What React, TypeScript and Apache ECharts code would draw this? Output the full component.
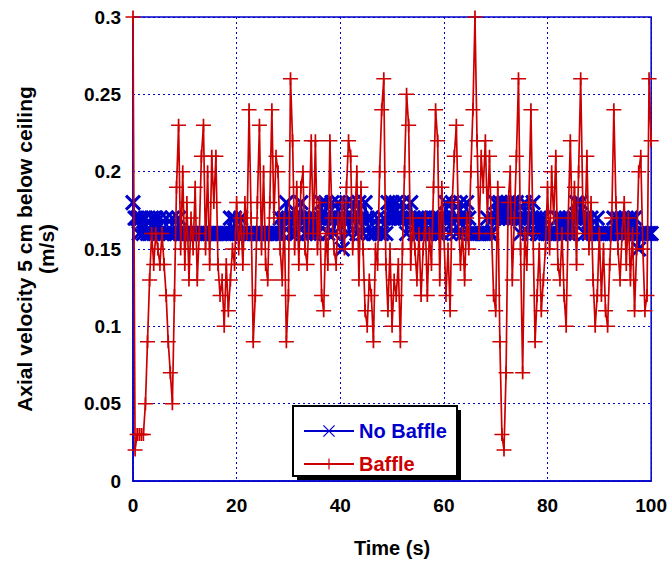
import React, { useEffect, useRef } from "react";
import * as echarts from "echarts";

// Sampling interval of both records (s)
const SAMPLE_STEP = 0.4;

// Axial velocity (m/s), "No Baffle" case, one value every 0.4 s from t = 0 to 100 s
const noBaffleVelocity = [
  0.18, 0.17, 0.17, 0.16, 0.17,
  0.16, 0.17, 0.16, 0.16, 0.17,
  0.16, 0.17, 0.16, 0.17, 0.16,
  0.16, 0.17, 0.16, 0.16, 0.17,
  0.16, 0.16, 0.17, 0.16, 0.16,
  0.16, 0.16, 0.16, 0.16, 0.16,
  0.16, 0.16, 0.16, 0.16, 0.16,
  0.16, 0.16, 0.16, 0.16, 0.16,
  0.16, 0.16, 0.16, 0.16, 0.16,
  0.16, 0.16, 0.17, 0.16, 0.17,
  0.16, 0.16, 0.17, 0.16, 0.16,
  0.16, 0.16, 0.16, 0.16, 0.16,
  0.16, 0.16, 0.16, 0.16, 0.16,
  0.16, 0.16, 0.16, 0.16, 0.16,
  0.16, 0.17, 0.16, 0.17, 0.18,
  0.17, 0.16, 0.17, 0.16, 0.16,
  0.17, 0.18, 0.17, 0.16, 0.17,
  0.16, 0.17, 0.16, 0.17, 0.16,
  0.17, 0.18, 0.17, 0.18, 0.16,
  0.17, 0.18, 0.16, 0.17, 0.18,
  0.17, 0.15, 0.17, 0.18, 0.16,
  0.17, 0.18, 0.17, 0.16, 0.18,
  0.17, 0.16, 0.18, 0.17, 0.16,
  0.17, 0.16, 0.16, 0.17, 0.16,
  0.16, 0.17, 0.16, 0.18, 0.17,
  0.18, 0.17, 0.18, 0.17, 0.17,
  0.18, 0.17, 0.16, 0.17, 0.18,
  0.17, 0.16, 0.17, 0.16, 0.17,
  0.16, 0.17, 0.16, 0.16, 0.17,
  0.16, 0.17, 0.16, 0.17, 0.16,
  0.17, 0.18, 0.17, 0.16, 0.18,
  0.17, 0.16, 0.17, 0.18, 0.16,
  0.17, 0.18, 0.17, 0.16, 0.16,
  0.16, 0.16, 0.16, 0.16, 0.16,
  0.16, 0.17, 0.16, 0.16, 0.17,
  0.18, 0.17, 0.18, 0.17, 0.18,
  0.17, 0.18, 0.17, 0.18, 0.17,
  0.18, 0.17, 0.16, 0.17, 0.18,
  0.17, 0.16, 0.17, 0.18, 0.17,
  0.16, 0.17, 0.16, 0.17, 0.16,
  0.16, 0.16, 0.16, 0.16, 0.16,
  0.17, 0.16, 0.17, 0.16, 0.17,
  0.16, 0.17, 0.16, 0.17, 0.18,
  0.17, 0.18, 0.17, 0.16, 0.17,
  0.16, 0.17, 0.16, 0.16, 0.17,
  0.16, 0.16, 0.16, 0.16, 0.16,
  0.16, 0.16, 0.17, 0.16, 0.17,
  0.16, 0.17, 0.16, 0.17, 0.16,
  0.17, 0.16, 0.17, 0.16, 0.15,
  0.16, 0.16, 0.16, 0.16, 0.16,
  0.16,
];

// Axial velocity (m/s), "Baffle" case, one value every 0.4 s from t = 0 to 100 s
const baffleVelocity = [
  0.30, 0.02, 0.03, 0.03, 0.03,
  0.03, 0.05, 0.09, 0.13, 0.16,
  0.14, 0.16, 0.15, 0.14, 0.16,
  0.14, 0.12, 0.09, 0.07, 0.05,
  0.12, 0.19, 0.23, 0.15, 0.20,
  0.14, 0.18, 0.13, 0.17, 0.15,
  0.19, 0.13, 0.16, 0.21, 0.23,
  0.15, 0.20, 0.14, 0.21, 0.18,
  0.21, 0.14, 0.12, 0.13, 0.10,
  0.14, 0.11, 0.13, 0.15, 0.14,
  0.18, 0.15, 0.17, 0.14, 0.18,
  0.16, 0.24, 0.17, 0.09, 0.12,
  0.18, 0.23, 0.15, 0.20, 0.14,
  0.13, 0.18, 0.24, 0.17, 0.21,
  0.20, 0.15, 0.13, 0.17, 0.09,
  0.12, 0.26, 0.22, 0.15, 0.19,
  0.14, 0.19, 0.20, 0.15, 0.14,
  0.17, 0.22, 0.16, 0.22, 0.15,
  0.18, 0.12, 0.11, 0.16, 0.14,
  0.22, 0.17, 0.15, 0.14, 0.17,
  0.16, 0.18, 0.15, 0.19, 0.22,
  0.21, 0.15, 0.17, 0.20, 0.13,
  0.19, 0.15, 0.11, 0.10, 0.13,
  0.12, 0.09, 0.15, 0.14, 0.20,
  0.24, 0.26, 0.14, 0.11, 0.15,
  0.10, 0.13, 0.12, 0.14, 0.09,
  0.15, 0.20, 0.25, 0.23, 0.14,
  0.17, 0.15, 0.13, 0.16, 0.12,
  0.15, 0.17, 0.12, 0.16, 0.14,
  0.19, 0.24, 0.22, 0.13, 0.19,
  0.16, 0.12, 0.15, 0.11, 0.18,
  0.21, 0.23, 0.17, 0.14, 0.16,
  0.13, 0.17, 0.15, 0.20, 0.24,
  0.30, 0.22, 0.16, 0.21, 0.19,
  0.22, 0.17, 0.21, 0.16, 0.12,
  0.11, 0.19, 0.09, 0.03, 0.02,
  0.07, 0.18, 0.20, 0.13, 0.17,
  0.21, 0.26, 0.15, 0.07, 0.16,
  0.14, 0.18, 0.24, 0.16, 0.09,
  0.12, 0.15, 0.11, 0.13, 0.15,
  0.19, 0.15, 0.20, 0.17, 0.21,
  0.14, 0.13, 0.16, 0.12, 0.10,
  0.17, 0.22, 0.16, 0.19, 0.14,
  0.20, 0.26, 0.18, 0.16, 0.21,
  0.15, 0.18, 0.13, 0.10, 0.12,
  0.16, 0.12, 0.15, 0.11, 0.10,
  0.14, 0.17, 0.24, 0.18, 0.15,
  0.13, 0.16, 0.18, 0.14, 0.17,
  0.13, 0.16, 0.11, 0.15, 0.20,
  0.21, 0.15, 0.11, 0.12, 0.26,
  0.22,
];

const seriesNames = ["No Baffle", "Baffle"];
const xTickValues = [0, 20, 40, 60, 80, 100];
const yTickValues = [0, 0.05, 0.1, 0.15, 0.2, 0.25, 0.3];

const BLUE = "#0000cc";
const RED = "#cc0000";
const FONT = "'Liberation Sans', Arial, Helvetica, sans-serif";

const toPairs = (vals: number[]) =>
  vals.map((v, i) => [Number((i * SAMPLE_STEP).toFixed(1)), v]);

export default function App() {
  const ref = useRef<HTMLDivElement>(null);

  useEffect(() => {
    if (!ref.current) return;
    const chart = echarts.init(ref.current, null, { renderer: "svg" });
    const xStep = xTickValues[1] - xTickValues[0];
    const yStep = yTickValues[1] - yTickValues[0];
    chart.setOption({
      animation: false,
      backgroundColor: "#ffffff",
      grid: {
        left: 133,
        right: 18,
        top: 17,
        bottom: 82,
        show: true,
        borderColor: BLUE,
        borderWidth: 1.5,
        backgroundColor: "#ffffff",
      },
      xAxis: {
        type: "value",
        min: xTickValues[0],
        max: xTickValues[xTickValues.length - 1],
        interval: xStep,
        name: "Time (s)",
        nameLocation: "middle",
        nameGap: 57,
        nameTextStyle: { fontFamily: FONT, fontSize: 20, fontWeight: "bold", color: "#000" },
        axisLine: { show: true, lineStyle: { color: BLUE, width: 1.5 } },
        axisTick: { show: false },
        axisLabel: { fontFamily: FONT, fontSize: 19, fontWeight: "bold", color: "#000", margin: 15 },
        splitLine: { show: true, lineStyle: { color: BLUE, width: 1, type: [2, 3] } },
      },
      yAxis: {
        type: "value",
        min: yTickValues[0],
        max: yTickValues[yTickValues.length - 1],
        interval: yStep,
        name: "Axial velocity 5 cm below ceiling\n(m/s)",
        nameLocation: "middle",
        nameRotate: 90,
        nameGap: 76,
        nameTextStyle: {
          fontFamily: FONT,
          fontSize: 21,
          fontWeight: "bold",
          color: "#000",
          lineHeight: 22,
          align: "center",
        },
        axisLine: { show: true, lineStyle: { color: BLUE, width: 1.5 } },
        axisTick: { show: false },
        axisLabel: { fontFamily: FONT, fontSize: 19, fontWeight: "bold", color: "#000", margin: 12 },
        splitLine: { show: true, lineStyle: { color: BLUE, width: 1, type: [2, 3] } },
      },
      legend: {
        orient: "vertical",
        left: 303,
        top: 421,
        padding: 0,
        itemWidth: 50,
        itemHeight: 14,
        itemGap: 13,
        z: 10,
        itemStyle: { borderWidth: 1.2 },
        textStyle: { fontFamily: FONT, fontSize: 20, fontWeight: "bold" },
        data: [
          { name: seriesNames[0], textStyle: { color: BLUE } },
          { name: seriesNames[1], textStyle: { color: RED } },
        ],
      },
      graphic: [
        {
          type: "rect",
          z: 5,
          shape: { x: 297, y: 410, width: 164, height: 70 },
          style: { fill: "#000000" },
        },
        {
          type: "rect",
          z: 5,
          shape: { x: 293, y: 406, width: 164, height: 70 },
          style: { fill: "#ffffff", stroke: "#000000", lineWidth: 2 },
        },
      ],
      series: [
        {
          name: seriesNames[0],
          type: "line",
          data: toPairs(noBaffleVelocity),
          symbol: "path://M0,0L10,10M10,0L0,10",
          symbolSize: 14,
          showAllSymbol: true,
          lineStyle: { color: BLUE, width: 2 },
          itemStyle: { color: BLUE, borderColor: BLUE, borderWidth: 3 },
          z: 2,
        },
        {
          name: seriesNames[1],
          type: "line",
          data: toPairs(baffleVelocity),
          symbol: "path://M0,5L10,5M5,0L5,10",
          symbolSize: [15, 13],
          showAllSymbol: true,
          lineStyle: { color: RED, width: 1.7 },
          itemStyle: { color: RED, borderColor: RED, borderWidth: 1.6 },
          z: 3,
        },
      ],
    });
    return () => chart.dispose();
  }, []);

  return (
    <div
      ref={ref}
      style={{ position: "fixed", left: 0, top: 0, width: 670, height: 563, background: "#fff" }}
    />
  );
}
